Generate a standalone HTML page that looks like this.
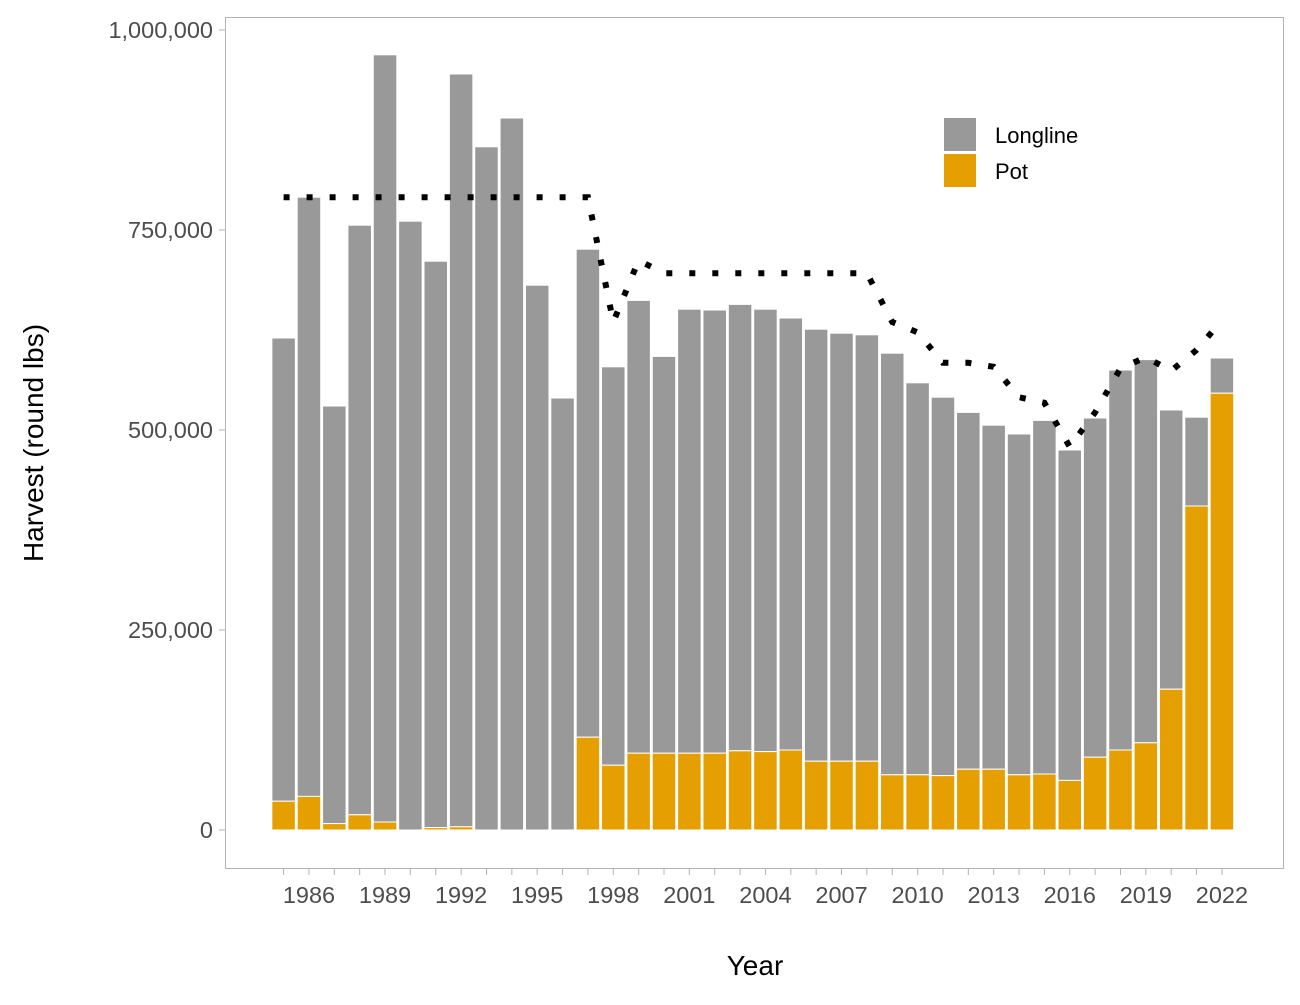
<!DOCTYPE html>
<html><head><meta charset="utf-8"><style>
body{margin:0;background:#fff;font-family:"Liberation Sans",Arial,sans-serif}
</style></head><body>
<svg id="chart" width="1300" height="1000" xmlns="http://www.w3.org/2000/svg">
<rect x="0" y="0" width="1300" height="1000" fill="#fff"/>
<rect x="225.5" y="17.5" width="1058" height="851" fill="none" stroke="#b3b3b3" stroke-width="1"/>
<g id="bars"></g><g id="line"></g><g id="axes"></g>
<g>
<rect x="944" y="118" width="32" height="33" fill="#999999"/>
<rect x="944" y="154" width="32" height="33" fill="#E69F00"/>
<text x="995" y="143" font-size="22" fill="#000">Longline</text>
<text x="995" y="179" font-size="22" fill="#000">Pot</text>
</g>
<text x="755" y="975" font-size="28" text-anchor="middle" fill="#000">Year</text>
<text transform="translate(43,443) rotate(-90)" font-size="28" text-anchor="middle" fill="#000">Harvest (round lbs)</text>
</svg>
<script>
const years=[1985,1986,1987,1988,1989,1990,1991,1992,1993,1994,1995,1996,1997,1998,1999,2000,2001,2002,2003,2004,2005,2006,2007,2008,2009,2010,2011,2012,2013,2014,2015,2016,2017,2018,2019,2020,2021,2022];
const totalHarvest=[615000,791000,530000,756000,969000,761000,711000,945000,854000,890000,681000,540000,726000,579000,662000,592000,651000,650000,657000,651000,640000,626000,621000,619000,596000,559000,541000,522000,506000,495000,512000,475000,515000,575000,588000,525000,516000,590000];
const potHarvest=[36000,42000,8000,19000,10000,0,3000,4000,0,0,0,0,116000,81000,96000,96000,96000,96000,99000,98000,100000,86000,86000,86000,69000,69000,68000,76000,76000,69000,70000,62000,91000,100000,109000,176000,405000,546000];
const quota=[791000,791000,791000,791000,791000,791000,791000,791000,791000,791000,791000,791000,791000,635000,712000,696000,696000,696000,696000,696000,696000,696000,696000,696000,635000,622000,584000,584000,579000,541000,534000,479000,522000,577000,591000,574000,600000,637000];
const yTicks=[0,250000,500000,750000,1000000];
const yTickLabels=["0","250,000","500,000","750,000","1,000,000"];
const xLabelYears=[1986,1989,1992,1995,1998,2001,2004,2007,2010,2013,2016,2019,2022];

const NS="http://www.w3.org/2000/svg";
const xs=y=>283.6+(y-1985)*25.36;
const ys=v=>830-v*0.0008;
function mk(tag,attrs,parent){const e=document.createElementNS(NS,tag);for(const k in attrs)e.setAttribute(k,attrs[k]);parent.appendChild(e);return e;}
const gb=document.getElementById('bars'),gl=document.getElementById('line'),ga=document.getElementById('axes');
const bw=23.5;
years.forEach((yr,i)=>{
  const x=xs(yr)-bw/2;
  const r=mk('rect',{x:x,y:ys(totalHarvest[i]),width:bw,height:ys(potHarvest[i])-ys(totalHarvest[i]),fill:'#999999',stroke:'#fff','stroke-width':1},gb);
  
  
  if(potHarvest[i]>0){
    const p=mk('rect',{x:x,y:ys(potHarvest[i]),width:bw,height:ys(0)-ys(potHarvest[i]),fill:'#E69F00',stroke:'#fff','stroke-width':1},gb);
    
    
  }
});
const pts=years.map((yr,i)=>xs(yr)+','+ys(quota[i])).join(' ');
const pl=mk('polyline',{points:pts,fill:'none',stroke:'#000','stroke-width':6,'stroke-dasharray':'6 17'},gl);


yTicks.forEach((v,i)=>{
  const t=mk('line',{x1:219,x2:225,y1:ys(v),y2:ys(v),stroke:'#b3b3b3','stroke-width':1},ga);
  
  
  const l=mk('text',{x:213,y:ys(v)+8,'font-size':23.5,'text-anchor':'end',fill:'#4d4d4d'},ga);
  l.textContent=yTickLabels[i];
  
  
});
years.forEach(yr=>{
  const t=mk('line',{x1:xs(yr),x2:xs(yr),y1:869,y2:875,stroke:'#b3b3b3','stroke-width':1},ga);
  
  
});
xLabelYears.forEach(yr=>{
  const l=mk('text',{x:xs(yr),y:903,'font-size':23.5,'text-anchor':'middle',fill:'#4d4d4d'},ga);
  l.textContent=yr;
  
  
});
</script>
</body></html>
